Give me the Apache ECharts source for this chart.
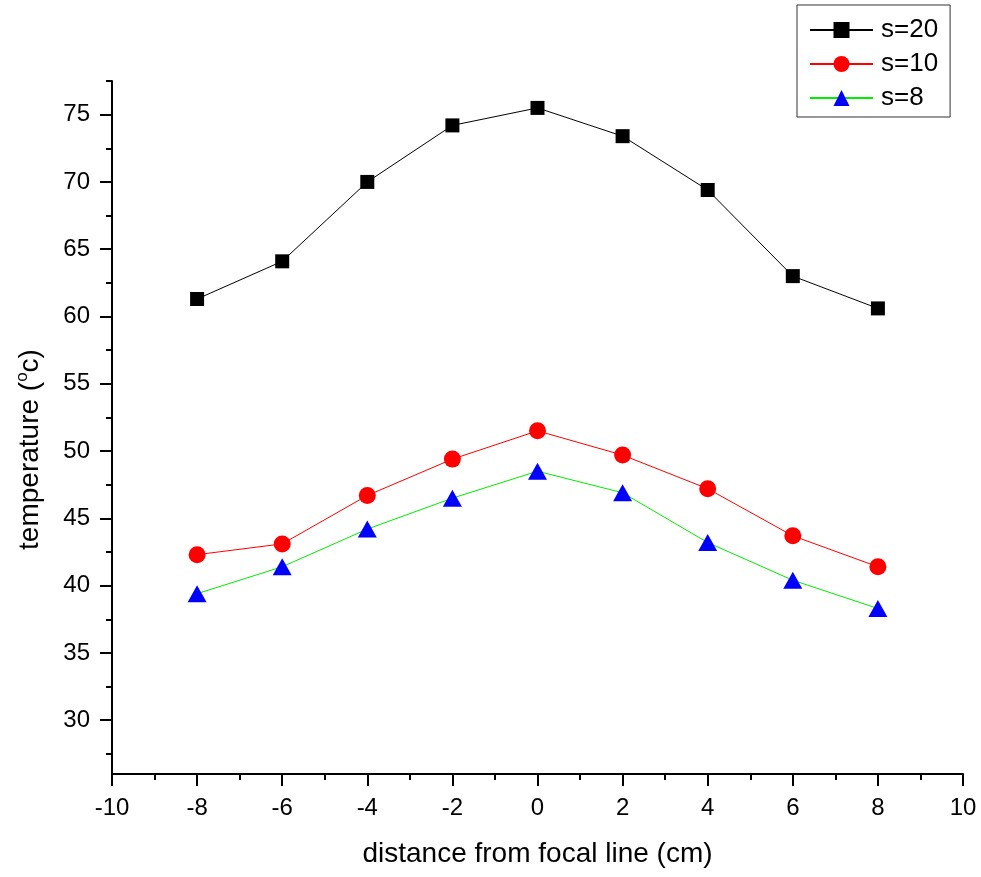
<!DOCTYPE html>
<html>
<head>
<meta charset="utf-8">
<script src="https://cdn.jsdelivr.net/npm/echarts@6/dist/echarts.min.js"></script>
<style>html,body{margin:0;padding:0;background:#fff}#c{width:981px;height:877px}</style>
</head>
<body>
<div id="c"></div>
<script>
const xValues = [-8, -6, -4, -2, 0, 2, 4, 6, 8];
const s20 = [61.3, 64.1, 70.0, 74.2, 75.5, 73.4, 69.4, 63.0, 60.6];
const s10 = [42.3, 43.1, 46.7, 49.4, 51.5, 49.7, 47.2, 43.7, 41.4];
const s8 = [39.4, 41.4, 44.2, 46.5, 48.5, 46.9, 43.2, 40.4, 38.3];
const yMajorTicks = [30, 35, 40, 45, 50, 55, 60, 65, 70, 75];
const yMinorTicks = [27.5, 32.5, 37.5, 42.5, 47.5, 52.5, 57.5, 62.5, 67.5, 72.5, 77.5];

const FONT = 'Liberation Sans, Arial, sans-serif';
const pair = (ys) => xValues.map((x, i) => [x, ys[i]]);

const chart = echarts.init(document.getElementById('c'), null, {renderer: 'canvas'});
chart.setOption({
  backgroundColor: '#fff',
  animation: false,
  grid: {left: 112, right: 18, top: 81, bottom: 103, containLabel: false},
  legend: {
    orient: 'vertical',
    left: 797, top: 5,
    padding: [12, 12, 6, 12],
    itemWidth: 63, itemHeight: 20, itemGap: 8,
    borderColor: '#333', borderWidth: 1,
    textStyle: {fontFamily: FONT, fontSize: 26, lineHeight: 26, color: '#000', padding: [0, 0, 0, 3]},
    data: ['s=20', 's=10', 's=8']
  },
  xAxis: {
    type: 'value', min: -10, max: 10, interval: 2,
    name: 'distance from focal line (cm)', nameLocation: 'middle', nameGap: 66,
    nameTextStyle: {fontFamily: FONT, fontSize: 28, color: '#000'},
    axisLine: {onZero: false, lineStyle: {color: '#000', width: 2}},
    axisTick: {inside: false, length: 12, lineStyle: {color: '#000', width: 2}},
    minorTick: {show: true, splitNumber: 2, length: 6, lineStyle: {color: '#000', width: 2}},
    axisLabel: {fontFamily: FONT, fontSize: 24, color: '#000', margin: 22},
    splitLine: {show: false}
  },
  yAxis: [{
    type: 'value', min: 26, max: 77.5,
    name: 'temperature ({sup|o}c)', nameLocation: 'middle', nameGap: 66,
    nameTextStyle: {fontFamily: FONT, fontSize: 28, color: '#000', lineHeight: 32, padding: [0, 44, 0, 0],
      rich: {sup: {fontFamily: FONT, fontSize: 17, color: '#000', verticalAlign: 'top', lineHeight: 32}}},
    axisLine: {onZero: false, lineStyle: {color: '#000', width: 2}},
    axisTick: {length: 12, customValues: yMajorTicks, lineStyle: {color: '#000', width: 2}},
    axisLabel: {fontFamily: FONT, fontSize: 24, color: '#000', margin: 22, customValues: yMajorTicks},
    splitLine: {show: false}
  }, {
    type: 'value', min: 26, max: 77.5, position: 'left',
    axisLine: {show: false, onZero: false},
    axisTick: {length: 6, customValues: yMinorTicks, lineStyle: {color: '#000', width: 2}},
    axisLabel: {show: false},
    splitLine: {show: false}
  }],
  series: [{
    name: 's=20', type: 'line', data: pair(s20), yAxisIndex: 0,
    symbol: 'rect', symbolSize: 14,
    lineStyle: {color: '#000', width: 1}, itemStyle: {color: '#000'}
  }, {
    name: 's=10', type: 'line', data: pair(s10), yAxisIndex: 0,
    symbol: 'circle', symbolSize: 17,
    lineStyle: {color: '#ff0000', width: 1}, itemStyle: {color: '#ff0000'}
  }, {
    name: 's=8', type: 'line', data: pair(s8), yAxisIndex: 0,
    symbol: 'triangle', symbolSize: [19, 17],
    lineStyle: {color: '#00ee00', width: 1}, itemStyle: {color: '#0000ff'}
  }]
});
</script>
</body>
</html>
